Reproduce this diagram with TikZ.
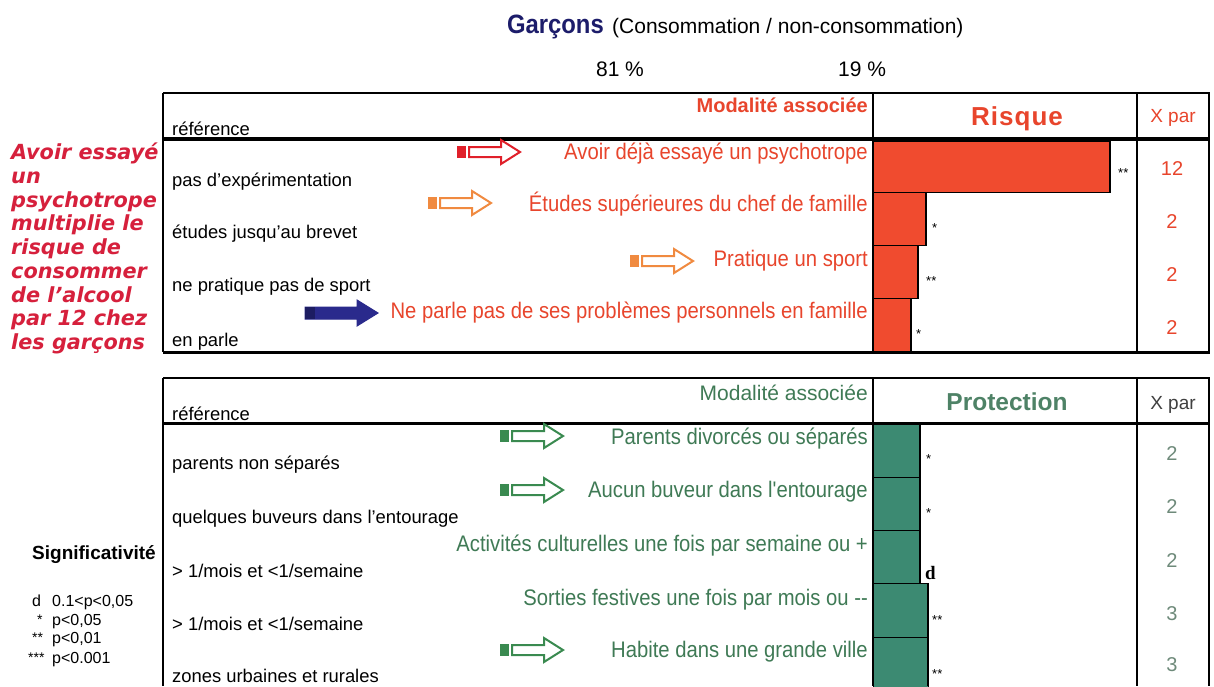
\documentclass[tikz,border=0pt]{standalone}
\usepackage{fontspec}
\setmainfont{Liberation Sans}
\newfontfamily\narrowfam[FakeStretch=0.9]{Liberation Sans}
\newfontfamily\notefam{DejaVu Sans}
\newfontfamily\seriffam{Liberation Serif}
\definecolor{riskred}{HTML}{E8452C}
\definecolor{barred}{HTML}{F04B2F}
\definecolor{arrowred}{HTML}{E0202A}
\definecolor{arroworange}{HTML}{F08A40}
\definecolor{arrownavy}{HTML}{2A2A8C}
\definecolor{titlenavy}{HTML}{1C1C6A}
\definecolor{greentext}{HTML}{3F7A55}
\definecolor{bargreen}{HTML}{3C8A72}
\definecolor{protgreen}{HTML}{4E8266}
\definecolor{xgreen}{HTML}{6E8A7A}
\definecolor{arrowgreen}{HTML}{3A8A50}
\definecolor{notered}{HTML}{D6203C}
\newcommand\myrowfont{\fontsize{18.4}{20}\selectfont}
\newcommand\mymodfont{\narrowfam\fontsize{22.5}{24}\selectfont}
\begin{document}
\begin{tikzpicture}[x=1pt,y=-1pt,
  rowlbl/.style={anchor=base west, font=\myrowfont, inner sep=0},
  modlbl/.style={anchor=base east, font=\mymodfont, inner sep=0},
  hdrlbl/.style={anchor=base east, font=\fontsize{20}{22}\selectfont\bfseries, inner sep=0},
  xval/.style={anchor=base, font=\fontsize{20}{22}\selectfont, inner sep=0},
  star/.style={anchor=base west, font=\fontsize{13}{14}\selectfont, inner sep=0},
  tline/.style={line width=2pt, black},
  hline/.style={line width=3.5pt, black},
  riskbar/.style={fill=barred, draw=black, line width=1pt},
  protbar/.style={fill=bargreen, draw=black, line width=1pt},
  pics/sarrow/.style={code={
    \fill[#1] (0,-6) rectangle (9,6);
    \draw[#1, line width=2pt, fill=white, line join=miter] (12,-5) -- (44,-5) -- (44,-12) -- (63,0) -- (44,12) -- (44,5) -- (12,5) -- cycle;
  }},
  pics/farrow/.style={code={
    \draw[#1, line width=1pt, fill=#1, line join=miter] (0,-6) -- (52,-6) -- (52,-13) -- (73,0) -- (52,13) -- (52,6) -- (0,6) -- cycle;
    \fill[#1!70!black] (0,-6) rectangle (10,6);
  }}
]
\useasboundingbox (0,0) rectangle (1214,686);
\fill[white] (0,0) rectangle (1214,686);

% ---------- title ----------
\node[anchor=base east, inner sep=0, text=titlenavy, font=\narrowfam\fontsize{26.5}{28}\selectfont\bfseries] (garcons) at (604,33) {Garçons};
\node[anchor=base west, inner sep=0, font=\fontsize{21}{24}\selectfont] (conso) at (612,33) {(Consommation / non-consommation)};
\node[anchor=base, inner sep=0, font=\fontsize{21}{24}\selectfont] (p81) at (620,76) {81 \%};
\node[anchor=base, inner sep=0, font=\fontsize{21}{24}\selectfont] (p19) at (862,76) {19 \%};

% ---------- left note ----------
\node[anchor=north west, inner sep=0, text=notered, align=left,
  font=\notefam\fontsize{20.8}{23.7}\selectfont\bfseries\itshape] (note) at (11,143)
  {Avoir essayé\\un\\psychotrope\\multiplie le\\risque de\\consommer\\de l’alcool\\par 12 chez\\les garçons};

% ---------- upper table: bars ----------
\draw[riskbar] (873,141) rectangle (1110,192);
\draw[riskbar] (873,192) rectangle (926,245);
\draw[riskbar] (873,245) rectangle (918,298);
\draw[riskbar] (873,298) rectangle (911,351);
\draw[line width=2.5pt] (1110,141) -- (1110,192);
\draw[line width=2.5pt] (926,192) -- (926,245);
\draw[line width=2.5pt] (918,245) -- (918,298);
\draw[line width=2.5pt] (911,298) -- (911,351);
\node[star] (s1) at (1118,177) {**};
\node[star] (s2) at (932,232) {*};
\node[star] (s3) at (926,285) {**};
\node[star] (s4) at (916,338) {*};

% ---------- upper table: lines ----------
\draw[tline] (163,93) -- (1210,93);
\draw[hline] (163,139) -- (1210,139);
\draw[line width=3pt] (163,352) -- (1210,352);
\draw[tline] (163,93) -- (163,352);
\draw[tline] (873,93) -- (873,352);
\draw[tline] (1137,93) -- (1137,352);
\draw[tline] (1209,93) -- (1209,352);

% ---------- upper table: texts ----------
\node[hdrlbl, text=riskred] (mod1) at (868,112) {Modalité associée};
\node[rowlbl] (ref1) at (172,135) {référence};
\node[anchor=base, inner sep=0, text=riskred, font=\fontsize{26}{28}\selectfont\bfseries\addfontfeature{LetterSpace=4}] (risque) at (1017,125) {Risque};
\node[anchor=base, inner sep=0, text=riskred, font=\fontsize{19}{22}\selectfont] (xpar1) at (1173,122) {X par};

\node[rowlbl] (r1) at (172,186) {pas d'expérimentation};
\node[rowlbl] (r2) at (172,238) {études jusqu'au brevet};
\node[rowlbl] (r3) at (172,291) {ne pratique pas de sport};
\node[rowlbl] (r4) at (172,346) {en parle};

\node[modlbl, text=riskred] (m1) at (868,159) {Avoir déjà essayé un psychotrope};
\node[modlbl, text=riskred] (m2) at (868,211) {Études supérieures du chef de famille};
\node[modlbl, text=riskred] (m3) at (868,266) {Pratique un sport};
\node[modlbl, text=riskred] (m4) at (868,318) {Ne parle pas de ses problèmes personnels en famille};

\pic at (457,152) {sarrow=arrowred};
\pic at (428,203) {sarrow=arroworange};
\pic at (630,261) {sarrow=arroworange};
\pic at (305,313) {farrow=arrownavy};

\node[xval, text=riskred] (x1) at (1172,175) {12};
\node[xval, text=riskred] (x2) at (1172,228) {2};
\node[xval, text=riskred] (x3) at (1172,281) {2};
\node[xval, text=riskred] (x4) at (1172,334) {2};

% ---------- lower table: bars ----------
\draw[protbar] (873,424) rectangle (920,477);
\draw[protbar] (873,477) rectangle (920,530);
\draw[protbar] (873,530) rectangle (920,583);
\draw[protbar] (873,583) rectangle (928,637);
\draw[protbar] (873,637) rectangle (928,690);
\draw[line width=2pt] (920,424) -- (920,583);
\draw[line width=2.5pt] (928,583) -- (928,686);
\node[star] (t1) at (926,463) {*};
\node[star] (t2) at (926,517) {*};
\node[anchor=base west, inner sep=0, font=\seriffam\fontsize{19}{20}\selectfont\bfseries] (t3) at (925,579) {d};
\node[star] (t4) at (932,624) {**};
\node[star] (t5) at (932,678) {**};

% ---------- lower table: lines ----------
\draw[tline] (163,378) -- (1210,378);
\draw[line width=3pt] (163,423) -- (1210,423);
\draw[tline] (163,378) -- (163,686);
\draw[tline] (873,378) -- (873,686);
\draw[tline] (1137,378) -- (1137,686);
\draw[tline] (1209,378) -- (1209,686);

% ---------- lower table: texts ----------
\node[hdrlbl, text=greentext, font=\fontsize{21}{22}\selectfont] (mod2) at (868,400) {Modalité associée};
\node[rowlbl] (ref2) at (172,420) {référence};
\node[anchor=base, inner sep=0, text=protgreen, font=\fontsize{24.5}{26}\selectfont\bfseries] (protection) at (1007,410) {Protection};
\node[anchor=base, inner sep=0, text=black!75, font=\fontsize{19}{22}\selectfont] (xpar2) at (1173,409) {X par};

\node[rowlbl] (q1) at (172,469) {parents non séparés};
\node[rowlbl] (q2) at (172,523) {quelques buveurs dans l'entourage};
\node[rowlbl] (q3) at (172,577) {> 1/mois et <1/semaine};
\node[rowlbl] (q4) at (172,630) {> 1/mois et <1/semaine};
\node[rowlbl] (q5) at (172,682) {zones urbaines et rurales};

\node[modlbl, text=greentext] (g1) at (868,444) {Parents divorcés ou séparés};
\node[modlbl, text=greentext] (g2) at (868,497) {Aucun buveur dans l'entourage};
\node[modlbl, text=greentext] (g3) at (868,551) {Activités culturelles une fois par semaine ou +};
\node[modlbl, text=greentext] (g4) at (868,605) {Sorties festives une fois par mois ou --};
\node[modlbl, text=greentext] (g5) at (868,657) {Habite dans une grande ville};

\pic at (500,436) {sarrow=arrowgreen};
\pic at (500,490) {sarrow=arrowgreen};
\pic at (500,650) {sarrow=arrowgreen};

\node[xval, text=xgreen] (y1) at (1172,460) {2};
\node[xval, text=xgreen] (y2) at (1172,513) {2};
\node[xval, text=xgreen] (y3) at (1172,567) {2};
\node[xval, text=xgreen] (y4) at (1172,620) {3};
\node[xval, text=xgreen] (y5) at (1172,671) {3};

% ---------- legend ----------
\node[anchor=base west, inner sep=0, font=\fontsize{19}{20}\selectfont\bfseries] (signif) at (32,559) {Significativité};
\node[anchor=base west, inner sep=0, font=\fontsize{16}{18}\selectfont] (ld) at (32,606) {d};
\node[anchor=base west, inner sep=0, font=\fontsize{16}{18}\selectfont] (ld2) at (52,606) {0.1<p<0,05};
\node[anchor=base west, inner sep=0, font=\fontsize{14}{16}\selectfont] (l1) at (37,624) {*};
\node[anchor=base west, inner sep=0, font=\fontsize{16}{18}\selectfont] (l12) at (52,625) {p<0,05};
\node[anchor=base west, inner sep=0, font=\fontsize{14}{16}\selectfont] (l2) at (32,642) {**};
\node[anchor=base west, inner sep=0, font=\fontsize{16}{18}\selectfont] (l22) at (52,643) {p<0,01};
\node[anchor=base west, inner sep=0, font=\fontsize{14}{16}\selectfont] (l3) at (28,662) {***};
\node[anchor=base west, inner sep=0, font=\fontsize{16}{18}\selectfont] (l32) at (52,663) {p<0.001};
\end{tikzpicture}
\end{document}
